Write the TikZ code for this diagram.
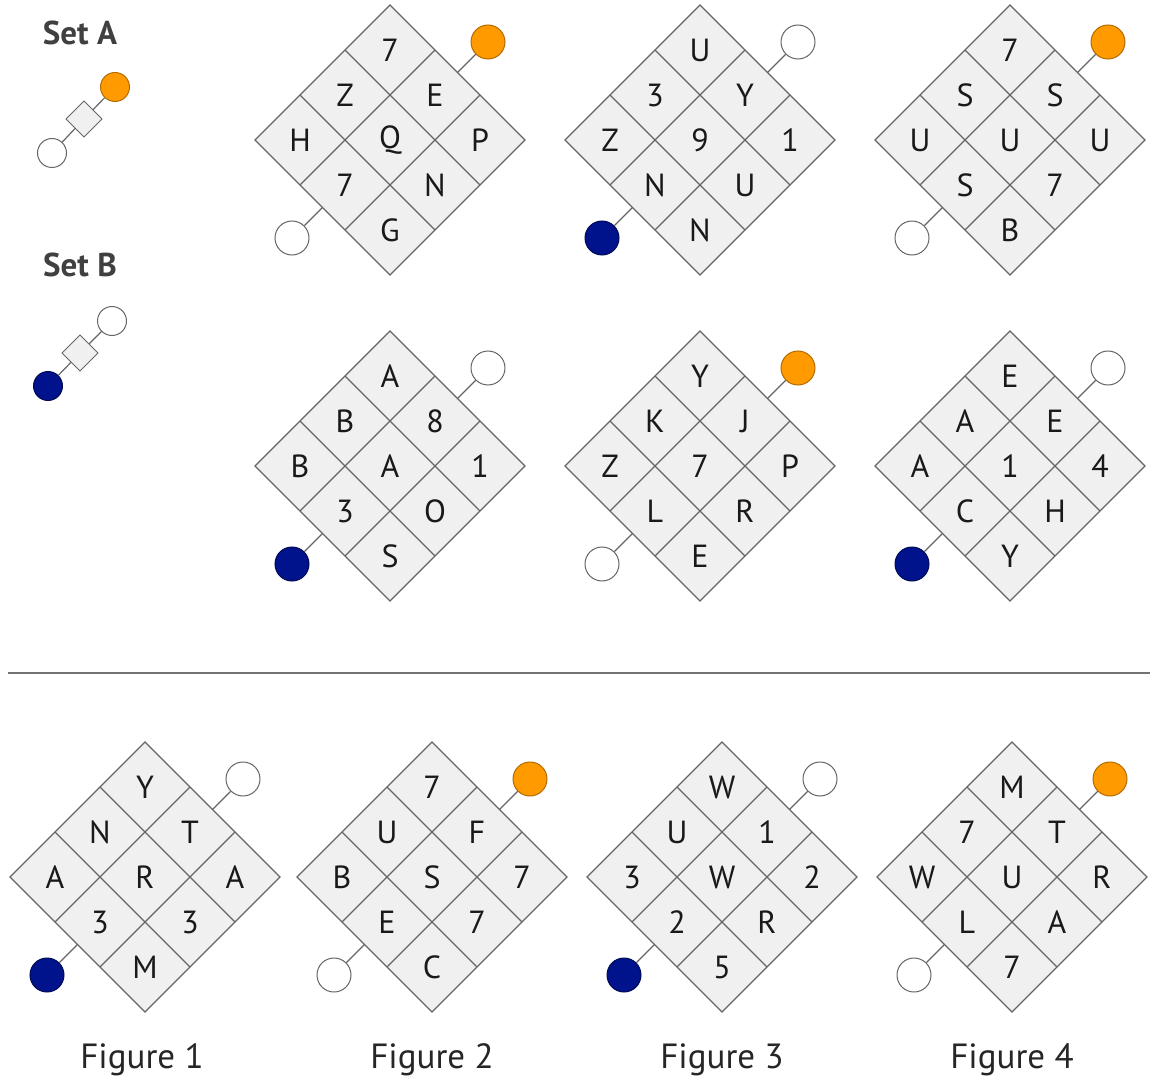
\documentclass[tikz,border=0pt]{standalone}
\usepackage{fontspec}
\setmainfont{PT Sans}
\usepackage{tikz}
\usetikzlibrary{shapes.geometric, positioning}

\definecolor{dotorange}{HTML}{FF9A00}
\definecolor{dotnavy}{HTML}{00128C}
\definecolor{cellgray}{HTML}{F0F0F0}
\definecolor{linegray}{HTML}{666666}

\tikzset{
    cell/.style={draw=linegray, fill=cellgray, line width=0.6pt},
    gridline/.style={draw=linegray, line width=0.6pt},
    letter/.style={font=\fontsize{16}{19}\selectfont, text=black!90, inner sep=0pt},
    dot/.style={circle, draw=linegray, fill=white, line width=0.5pt, minimum size=17pt, inner sep=0pt},
    orangedot/.style={fill=dotorange, draw=dotorange!70!black},
    navydot/.style={fill=dotnavy, draw=dotnavy!60!black},
    stem/.style={draw=linegray, line width=0.6pt},
    setlabel/.style={font=\fontsize{16.5}{20}\selectfont\bfseries, text=black!75},
    figlabel/.style={font=\fontsize{17.5}{21}\selectfont, text=black!85},
}

% offsets of the nine cells, top to bottom, left to right
\def\cellxs{{0,-1,1,-2,0,2,-1,1,0}}
\def\cellys{{-2,-1,-1,0,0,0,1,1,2}}

% #1 name, #2 centre, #3 style of upper dot, #4 style of lower dot, #5 letters
\newcommand{\board}[5]{%
    \begin{scope}[shift={#2}]
        \begin{scope}[rotate=45]
            \draw[cell] (-95.46,-95.46) rectangle (95.46,95.46);
            \foreach \g in {-31.82,31.82} {
                \draw[gridline] (\g,-95.46) -- (\g,95.46);
                \draw[gridline] (-95.46,\g) -- (95.46,\g);
            }
        \end{scope}
        \foreach \t [count=\k from 0] in {#5} {
            \pgfmathsetmacro\px{45*\cellxs[\k]}
            \pgfmathsetmacro\py{45*\cellys[\k]}
            \node[letter] (#1-\k) at (\px,\py) {\t};
        }
        \node[dot, #3] (#1-ne) at (98,-98) {};
        \node[dot, #4] (#1-sw) at (-98,98) {};
        \coordinate (#1-needge) at (67.5,-67.5);
        \coordinate (#1-swedge) at (-67.5,67.5);
        \draw[stem] (#1-ne) -- (#1-needge);
        \draw[stem] (#1-sw) -- (#1-swedge);
    \end{scope}}

\begin{document}
\begin{tikzpicture}[x=0.5pt, y=-0.5pt,
        minisq/.style={rectangle, draw=linegray, fill=cellgray, line width=0.5pt, minimum size=12.7pt, inner sep=0pt, rotate=45},
        smalldot/.style={dot, minimum size=14.5pt}
    ]
    \useasboundingbox (0,0) rectangle (1158,1086);

    % Legend
    \node[setlabel] (seta) at (80,33) {Set A};
    \node[minisq] (seta-sq) at (84,119) {};
    \node[smalldot, orangedot] (seta-top) at (115,87) {};
    \node[smalldot] (seta-bot) at (52,153) {};
    \draw[stem] (seta-sq) -- (seta-top);
    \draw[stem] (seta-sq) -- (seta-bot);

    \node[setlabel] (setb) at (80,265) {Set B};
    \node[minisq] (setb-sq) at (80,353) {};
    \node[smalldot] (setb-top) at (112,321) {};
    \node[smalldot, navydot] (setb-bot) at (48,386) {};
    \draw[stem] (setb-sq) -- (setb-top);
    \draw[stem] (setb-sq) -- (setb-bot);

    % Set A
    \board{a1}{(390,140)}{orangedot}{}{7,Z,E,H,Q,P,7,N,G}
    \board{a2}{(700,140)}{}{navydot}{U,3,Y,Z,9,1,N,U,N}
    \board{a3}{(1010,140)}{orangedot}{}{7,S,S,U,U,U,S,7,B}

    % Set B
    \board{b1}{(390,466)}{}{navydot}{A,B,8,B,A,1,3,O,S}
    \board{b2}{(700,466)}{orangedot}{}{Y,K,J,Z,7,P,L,R,E}
    \board{b3}{(1010,466)}{}{navydot}{E,A,E,A,1,4,C,H,Y}

    % Divider
    \coordinate (rule-l) at (8,673);
    \coordinate (rule-r) at (1150,673);
    \draw[draw=black!55, line width=0.7pt] (rule-l) -- (rule-r);

    % Test figures
    \board{f1}{(145,877)}{}{navydot}{Y,N,T,A,R,A,3,3,M}
    \board{f2}{(432,877)}{orangedot}{}{7,U,F,B,S,7,E,7,C}
    \board{f3}{(722,877)}{}{navydot}{W,U,1,3,W,2,2,R,5}
    \board{f4}{(1012,877)}{orangedot}{}{M,7,T,W,U,R,L,A,7}

    \node[figlabel] (fig1) at (142,1060) {Figure 1};
    \node[figlabel] (fig2) at (432,1060) {Figure 2};
    \node[figlabel] (fig3) at (722,1060) {Figure 3};
    \node[figlabel] (fig4) at (1012,1060) {Figure 4};
\end{tikzpicture}
\end{document}
